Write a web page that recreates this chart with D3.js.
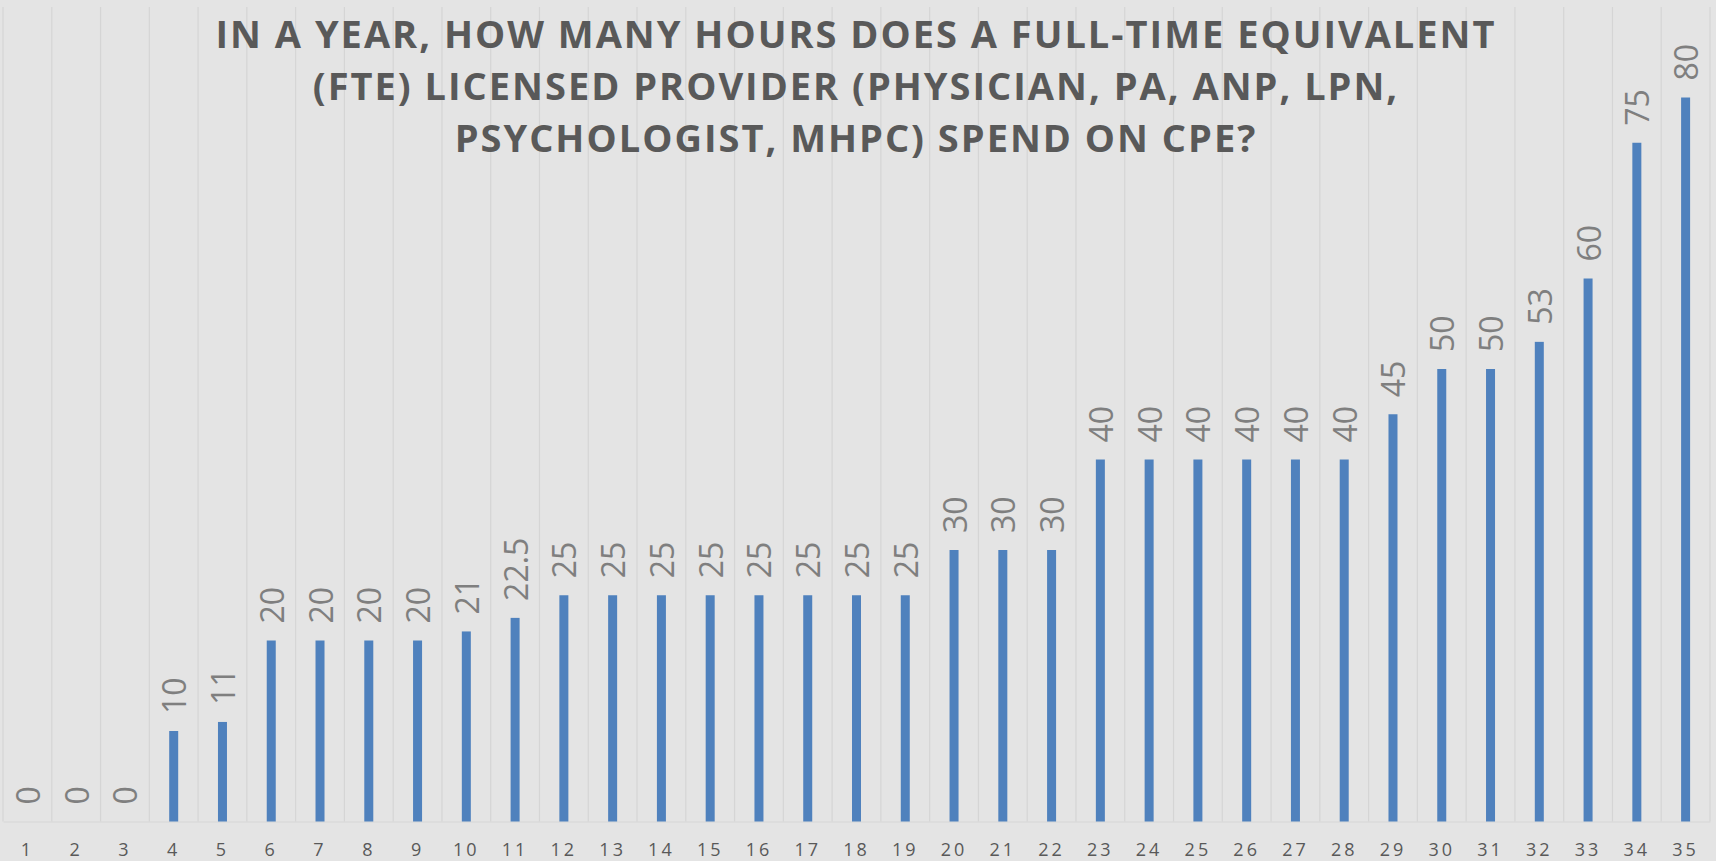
<!DOCTYPE html>
<html>
<head>
<meta charset="utf-8">
<script src="https://cdn.jsdelivr.net/npm/d3@7"></script>
<style>
  html, body { margin: 0; padding: 0; background: #e4e4e4; overflow: hidden; }
  svg { display: block; }
</style>
</head>
<body>
<script>
// chart data
var categories = d3.range(1, 36).map(String);
var hours = [0, 0, 0, 10, 11, 20, 20, 20, 20, 21, 22.5, 25, 25, 25, 25, 25, 25, 25, 25,
             30, 30, 30, 40, 40, 40, 40, 40, 40, 45, 50, 50, 53, 60, 75, 80];
var titleLines = [
  'IN A YEAR, HOW MANY HOURS DOES A FULL-TIME EQUIVALENT',
  '(FTE) LICENSED PROVIDER (PHYSICIAN, PA, ANP, LPN,',
  'PSYCHOLOGIST, MHPC) SPEND ON CPE?'
];

var width = 1716, height = 861;
var margin = { top: 7, right: 6, bottom: 39.5, left: 3 };
var plotW = width - margin.left - margin.right;
var plotH = height - margin.top - margin.bottom;

var svg = d3.select('body').append('svg')
  .attr('width', width)
  .attr('height', height);

svg.append('rect').attr('width', width).attr('height', height).attr('fill', '#e4e4e4');

var g = svg.append('g').attr('transform', 'translate(' + margin.left + ',' + margin.top + ')');

var x = d3.scaleBand().domain(categories).range([0, plotW]).padding(0);
var y = d3.scaleLinear().domain([0, 90]).range([plotH, 0]);

// vertical gridlines between categories
var edges = categories.map(function (c) { return x(c); }).concat([plotW]);
g.selectAll('line.grid')
  .data(edges)
  .enter().append('line')
  .attr('class', 'grid')
  .attr('x1', function (d) { return d; })
  .attr('x2', function (d) { return d; })
  .attr('y1', 0)
  .attr('y2', plotH)
  .attr('stroke', '#d5d5d5')
  .attr('stroke-width', 1.2);

// x axis
var xAxis = g.append('g')
  .attr('transform', 'translate(0,' + plotH + ')')
  .call(d3.axisBottom(x).tickSize(0).tickPadding(22));
xAxis.select('.domain').attr('stroke', '#d5d5d5').attr('stroke-width', 1.2);
xAxis.selectAll('text')
  .attr('fill', '#595959')
  .style('font-family', '"Open Sans", sans-serif')
  .style('font-size', '18px')
  .style('letter-spacing', '3px');

var barW = 9;

g.selectAll('rect.bar')
  .data(hours)
  .enter().append('rect')
  .attr('class', 'bar')
  .attr('x', function (d, i) { return x(categories[i]) + (x.bandwidth() - barW) / 2; })
  .attr('y', function (d) { return y(d); })
  .attr('width', barW)
  .attr('height', function (d) { return plotH - y(d); })
  .attr('fill', '#4f81bd');

// rotated data labels
g.selectAll('text.lbl')
  .data(hours)
  .enter().append('text')
  .attr('class', 'lbl')
  .attr('transform', function (d, i) {
    var cx = x(categories[i]) + x.bandwidth() / 2;
    return 'translate(' + cx + ',' + (y(d) - 17) + ') rotate(-90)';
  })
  .attr('dominant-baseline', 'central')
  .attr('text-anchor', 'start')
  .attr('fill', '#7f7f7f')
  .style('font-family', '"Open Sans", sans-serif')
  .style('font-size', '32px')
  .text(function (d) { return String(d); });

// title
svg.append('g').selectAll('text')
  .data(titleLines)
  .enter().append('text')
  .attr('x', 856)
  .attr('y', function (d, i) { return 48 + i * 52; })
  .attr('text-anchor', 'middle')
  .attr('fill', '#595959')
  .style('font-family', '"Open Sans", sans-serif')
  .style('font-weight', 'bold')
  .style('font-size', '38px')
  .style('letter-spacing', '2px')
  .text(function (d) { return d; });
</script>
</body>
</html>
